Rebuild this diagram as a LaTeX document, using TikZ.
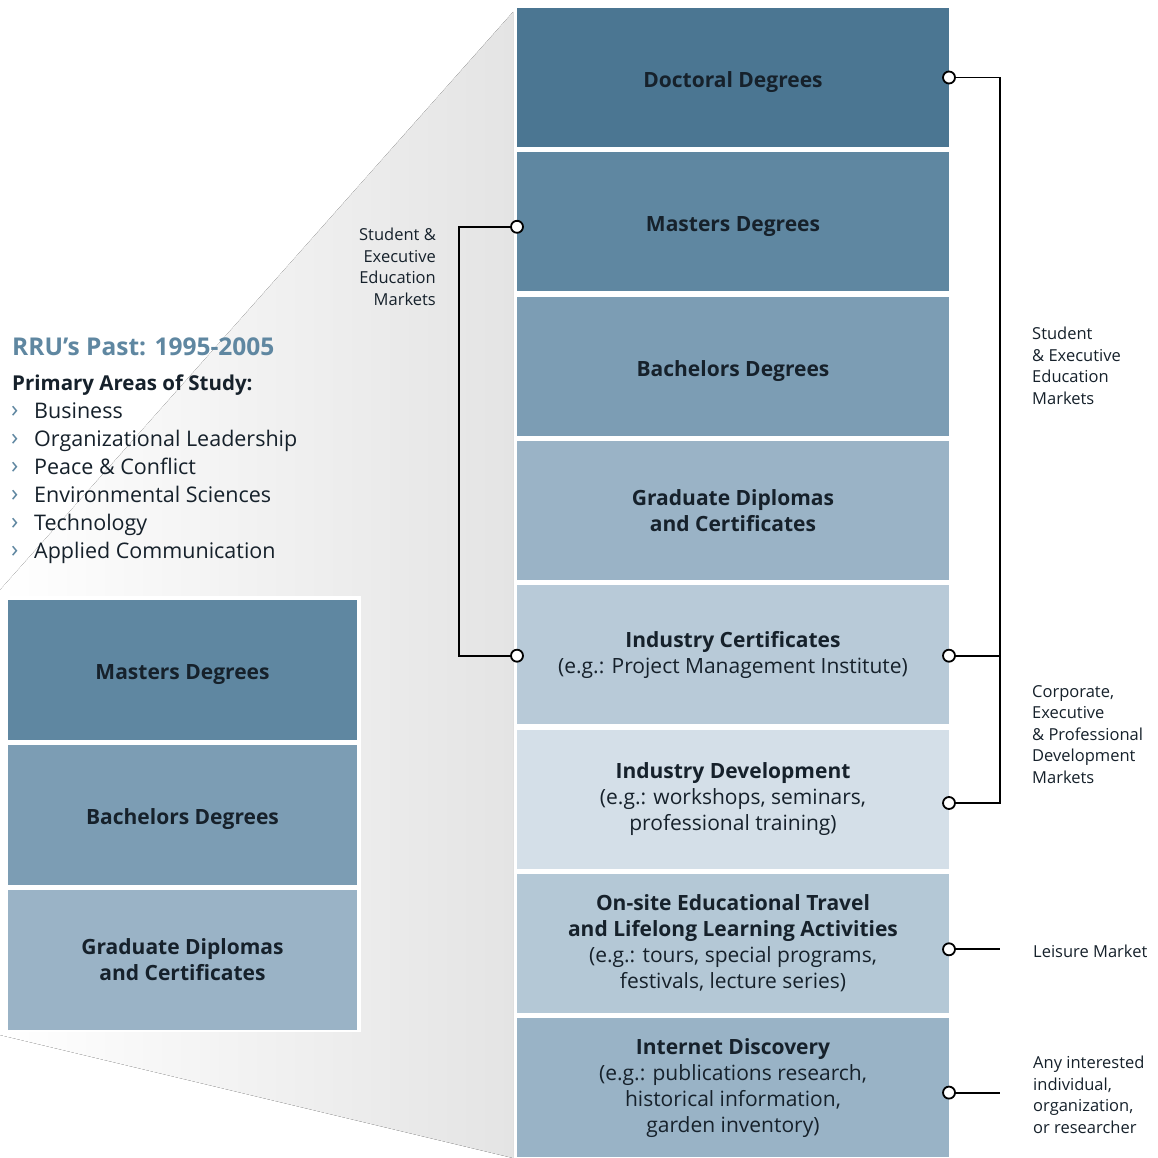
\documentclass[tikz,border=0pt]{standalone}
\usepackage{fontspec}
\setmainfont{Open Sans}
\usetikzlibrary{positioning}
\definecolor{rruA}{HTML}{4B7692}
\definecolor{rruB}{HTML}{5F87A1}
\definecolor{rruC}{HTML}{7C9DB4}
\definecolor{rruD}{HTML}{9AB3C6}
\definecolor{rruE}{HTML}{B8CAD8}
\definecolor{rruF}{HTML}{D4DFE8}
\definecolor{rruG}{HTML}{B4C8D6}
\definecolor{rruH}{HTML}{99B3C6}
\definecolor{boxtext}{HTML}{16212B}
\definecolor{wedge}{HTML}{E4E4E4}

\begin{document}
\begin{tikzpicture}[x=1pt, y=-1pt, node distance=5.3pt,
    degbox/.style={rectangle, minimum width=432pt, minimum height=139pt, inner sep=0pt, outer sep=0pt,
      align=center, text=boxtext, font=\fontsize{21}{26}\selectfont,
      execute at begin node={\rule{0pt}{25pt}}},
    pastbox/.style={degbox, minimum width=349pt, minimum height=140pt},
    dot/.style={circle, draw, fill=white, line width=1.8pt, minimum size=12pt, inner sep=0pt},
    market/.style={inner sep=0pt, text=boxtext, font=\fontsize{16.5}{21.5}\selectfont},
    listtext/.style={anchor=base west, inner sep=0pt, text=boxtext, font=\fontsize{21.5}{28}\selectfont},
    link/.style={line width=1.8pt}]
  \useasboundingbox (0,0) rectangle (1157,1158);
  \fill[white] (0,0) rectangle (1157,1158);
  % grey wedge behind the past stack
  \fill[left color=white, middle color=wedge!18!white, right color=wedge] (0,590) -- (513,12) -- (513,1158) -- (0,1035) -- cycle;

  % degrees and programs today
  \node[degbox, fill=rruA, anchor=north west] (doc) at (517,8) {\textbf{Doctoral Degrees}};
  \node[degbox, fill=rruB, below=of doc] (mas) {\textbf{Masters Degrees}};
  \node[degbox, fill=rruC, below=of mas] (bac) {\textbf{Bachelors Degrees}};
  \node[degbox, fill=rruD, below=of bac] (gdc) {\textbf{Graduate Diplomas}\\\textbf{and Certificates}};
  \node[degbox, fill=rruE, below=of gdc] (icert) {\textbf{Industry Certificates}\\(e.g.: Project Management Institute)};
  \node[degbox, fill=rruF, below=of icert] (idev) {\textbf{Industry Development}\\(e.g.: workshops, seminars,\\professional training)};
  \node[degbox, fill=rruG, below=of idev] (onsite) {\textbf{On-site Educational Travel}\\\textbf{and Lifelong Learning Activities}\\(e.g.: tours, special programs,\\festivals, lecture series)};
  \node[degbox, fill=rruH, below=of onsite] (inet) {\textbf{Internet Discovery}\\(e.g.: publications research,\\historical information,\\garden inventory)};

  % past stack
  \fill[white] (4,596) rectangle (361,1032);
  \node[pastbox, fill=rruB, anchor=north west] (pmas) at (8,600) {\textbf{Masters Degrees}};
  \node[pastbox, fill=rruC, below=5pt of pmas] (pbac) {\textbf{Bachelors Degrees}};
  \node[pastbox, fill=rruD, below=5pt of pbac] (pgdc) {\textbf{Graduate Diplomas}\\\textbf{and Certificates}};

  \node[anchor=base west, inner sep=0pt, text=rruB, font=\fontsize{24.5}{28}\selectfont\bfseries] (past) at (12,355) {RRU’s Past: 1995-2005};
  \node[listtext, font=\fontsize{20.5}{28}\selectfont\bfseries] (areas) at (12,390) {Primary Areas of Study:};
  \foreach \area [count=\i] in {Business, Organizational Leadership, Peace \& Conflict,
      Environmental Sciences, Technology, Applied Communication} {
    \node[listtext, text=rruB, font=\fontsize{24}{28}\selectfont] (chev\i) at (11,389+28*\i) {›};
    \node[listtext] (area\i) at (34,390+28*\i) {\area};
  }

  % market labels
  \node[market, align=right, anchor=north east] (mkleft) at (436,228) {Student \&\\Executive\\Education\\Markets};
  \node[market, align=left, anchor=north west] (mkstud) at (1032,327) {Student\\\& Executive\\Education\\Markets};
  \node[market, align=left, anchor=north west] (mkcorp) at (1032,685) {Corporate,\\Executive\\\& Professional\\Development\\Markets};
  \node[market, anchor=west] (mkleis) at (1033,951) {Leisure Market};
  \node[market, align=left, anchor=north west] (mkany) at (1033,1056) {Any interested\\individual,\\organization,\\or researcher};

  % connectors
  \coordinate (rbar) at (1000,0);
  \coordinate (lbar) at (459,0);
  \coordinate (pdoc) at (doc.east);
  \coordinate (picr) at ([yshift=-1pt]icert.east);
  \coordinate (pdev) at ([yshift=-4pt]idev.east);
  \coordinate (pons) at ([yshift=-6pt]onsite.east);
  \coordinate (pnet) at ([yshift=-5pt]inet.east);
  \coordinate (pmw) at ([yshift=-5pt]mas.west);
  \coordinate (picw) at ([yshift=-1pt]icert.west);
  \draw[link] (pdoc) -- (pdoc -| rbar) -- (pdev -| rbar) -- (pdev);
  \draw[link] (picr) -- (picr -| rbar);
  \draw[link] (pons) -- (pons -| rbar);
  \draw[link] (pnet) -- (pnet -| rbar);
  \draw[link] (pmw) -- (pmw -| lbar) -- (picw -| lbar) -- (picw);

  \node[dot] (d1) at (pdoc) {};
  \node[dot] (d2) at (picr) {};
  \node[dot] (d3) at (pdev) {};
  \node[dot] (d4) at (pons) {};
  \node[dot] (d5) at (pnet) {};
  \node[dot] (d6) at (pmw) {};
  \node[dot] (d7) at (picw) {};
\end{tikzpicture}
\end{document}
